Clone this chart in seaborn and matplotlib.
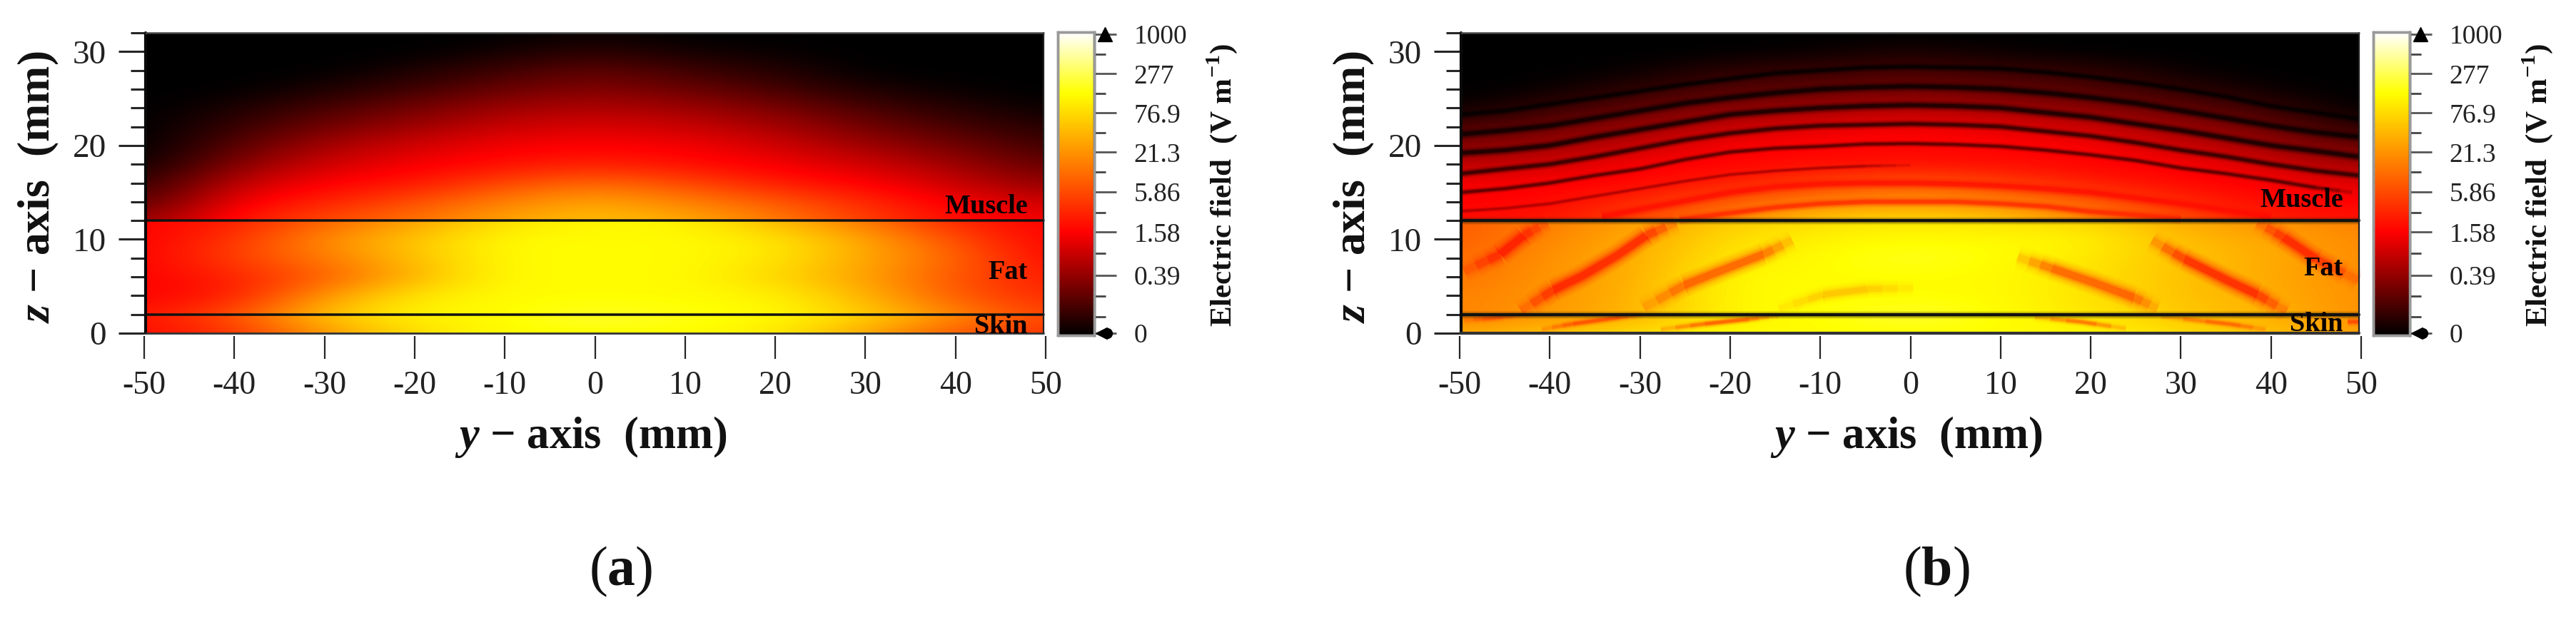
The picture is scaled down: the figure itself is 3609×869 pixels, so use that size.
import matplotlib
matplotlib.use('Agg')
import matplotlib.pyplot as plt
from matplotlib.colors import LinearSegmentedColormap
import seaborn as sns

# all field values are log10(E); rows run top to bottom
y_mm = [-50, -40, -30, -20, -10, 0, 10, 20, 30, 40, 50]
y_fine = [-49.8, -45, -40, -35, -30, -25, -20, -15, -10, -5, 0, 5, 10, 15, 20, 25, 30, 35, 40, 45, 49.7]

# panel a
a_muscle = [  # z = 32, 30, ... 12
    [-1.26, -1.26, -1.26, -1.26, -1.26, -1.20, -1.26, -1.26, -1.26, -1.26, -1.26],
    [-1.26, -1.26, -1.26, -1.25, -1.15, -1.00, -1.15, -1.20, -1.26, -1.26, -1.26],
    [-1.26, -1.26, -1.25, -1.10, -0.90, -0.70, -0.90, -1.05, -1.25, -1.26, -1.26],
    [-1.26, -1.25, -1.10, -0.90, -0.65, -0.50, -0.65, -0.85, -1.10, -1.20, -1.26],
    [-1.26, -1.10, -0.85, -0.60, -0.35, -0.25, -0.35, -0.55, -0.85, -1.05, -1.20],
    [-1.26, -0.95, -0.60, -0.35, -0.10, 0.00, -0.10, -0.30, -0.60, -0.85, -1.05],
    [-1.26, -0.75, -0.30, -0.05, 0.15, 0.20, 0.15, -0.05, -0.35, -0.60, -0.90],
    [-1.20, -0.50, -0.05, 0.15, 0.30, 0.45, 0.30, 0.15, -0.05, -0.35, -0.70],
    [-1.00, -0.15, 0.20, 0.35, 0.75, 1.00, 0.75, 0.40, 0.20, -0.10, -0.45],
    [-0.80, 0.15, 0.45, 0.80, 1.20, 1.50, 1.20, 0.90, 0.50, 0.15, -0.10],
    [-0.40, 0.35, 0.80, 1.10, 1.50, 1.70, 1.55, 1.20, 0.70, 0.30, 0.15],
]
a_fat = [  # z = 12, 10, ... 2
    [0.20, 0.40, 0.95, 1.40, 1.95, 2.10, 2.10, 1.60, 1.10, 0.45, 0.20],
    [0.20, 0.60, 1.30, 1.75, 2.15, 2.15, 2.15, 2.00, 1.50, 0.80, 0.20],
    [0.20, 0.70, 1.15, 1.70, 2.15, 2.15, 2.15, 2.00, 1.50, 1.00, 0.25],
    [0.20, 0.45, 0.90, 1.60, 2.15, 2.15, 2.15, 1.85, 1.45, 0.85, 0.40],
    [0.20, 0.40, 1.40, 2.00, 2.15, 2.15, 2.15, 2.10, 1.60, 0.90, 0.50],
    [0.35, 0.80, 1.70, 2.10, 2.15, 2.30, 2.20, 2.15, 1.80, 1.25, 0.70],
]
a_skin = [  # z = 2, 1, 0
    [0.35, 0.80, 1.70, 2.10, 2.15, 2.30, 2.20, 2.15, 1.80, 1.25, 0.70],
    [0.30, 0.70, 1.60, 2.00, 2.15, 2.30, 2.20, 2.10, 1.70, 1.10, 0.65],
    [0.30, 0.60, 1.40, 1.95, 2.15, 2.15, 2.15, 2.05, 1.50, 0.90, 0.60],
]

# panel b
b_muscle = [
    [-1.26, -1.26, -1.26, -1.26, -1.26, -1.26, -1.26, -1.26, -1.26, -1.26, -1.26],
    [-1.26, -1.26, -1.26, -1.25, -1.20, -1.10, -1.20, -1.25, -1.26, -1.26, -1.26],
    [-1.26, -1.26, -1.20, -1.00, -0.95, -0.85, -0.95, -1.00, -1.20, -1.26, -1.26],
    [-1.26, -1.20, -1.00, -0.80, -0.70, -0.60, -0.70, -0.80, -1.00, -1.20, -1.26],
    [-1.20, -0.95, -0.70, -0.50, -0.35, -0.25, -0.35, -0.50, -0.70, -0.95, -1.26],
    [-0.85, -0.65, -0.40, -0.10, 0.05, 0.15, 0.05, -0.10, -0.40, -0.65, -1.05],
    [-0.50, -0.35, -0.10, 0.20, 0.22, 0.25, 0.22, 0.20, -0.10, -0.35, -0.70],
    [-0.20, -0.05, 0.20, 0.22, 0.28, 0.30, 0.28, 0.22, 0.20, -0.05, -0.35],
    [0.15, 0.20, 0.25, 0.40, 0.70, 0.90, 0.70, 0.40, 0.25, 0.20, 0.00],
    [0.20, 0.25, 0.50, 0.90, 1.20, 1.35, 1.20, 0.90, 0.50, 0.25, 0.22],
    [0.30, 0.35, 0.80, 1.30, 1.85, 1.95, 1.85, 1.30, 0.80, 0.40, 0.35],
]
b_fat = [
    [0.90, 1.20, 1.40, 1.80, 1.90, 2.00, 1.90, 1.85, 1.50, 1.30, 1.20],
    [0.90, 1.25, 1.55, 1.90, 2.10, 2.15, 2.15, 2.10, 1.65, 1.50, 1.25],
    [1.00, 1.35, 1.55, 2.00, 2.15, 2.30, 2.15, 2.00, 1.70, 1.55, 1.25],
    [1.10, 1.35, 1.55, 2.15, 2.15, 2.15, 2.15, 1.95, 1.70, 1.50, 1.30],
    [1.20, 1.35, 1.60, 2.15, 2.15, 2.15, 2.15, 1.95, 1.70, 1.55, 1.30],
    [1.20, 1.40, 1.60, 2.15, 2.15, 2.35, 2.15, 2.00, 1.75, 1.60, 1.30],
]
b_skin = [
    [1.20, 1.40, 1.60, 2.15, 2.15, 2.35, 2.15, 2.00, 1.75, 1.60, 1.30],
    [1.30, 1.50, 1.70, 2.10, 2.15, 2.30, 2.15, 2.05, 1.80, 1.60, 1.35],
    [1.50, 1.70, 1.90, 2.15, 2.15, 2.15, 2.15, 2.10, 1.90, 1.70, 1.40],
]

# dark minima in the muscle of panel b: z along y_fine
null_1 = [23.3, 23.7, 24.4, 25.1, 25.8, 26.5, 27.1, 27.7, 28.0, 28.3, 28.4, 28.3, 28.2, 27.8, 27.3, 26.7, 26.0, 25.2, 24.2, 23.5, 22.8]
null_2 = [21.2, 21.6, 22.1, 22.9, 23.7, 24.5, 25.1, 25.6, 26.0, 26.2, 26.3, 26.2, 26.0, 25.6, 25.1, 24.5, 23.7, 22.9, 22.1, 21.4, 20.9]
null_3 = [19.2, 19.5, 20.0, 20.9, 21.7, 22.5, 23.3, 23.7, 24.0, 24.2, 24.3, 24.2, 24.0, 23.5, 23.0, 22.3, 21.6, 20.8, 20.0, 19.4, 18.8]
null_4 = [17.0, 17.5, 18.0, 18.8, 19.7, 20.6, 21.3, 21.8, 22.1, 22.2, 22.3, 22.2, 22.0, 21.5, 21.0, 20.3, 19.5, 18.8, 18.0, 17.3, 16.8]
null_5_y = [-49.8, -45, -40, -35, -30, -25, -20, -15, -10, -5, 0, 5, 10, 15, 20, 25, 30, 35, 40, 45, 49]
null_5 = [15.0, 15.4, 16.0, 16.8, 17.5, 18.5, 19.3, 19.7, 19.9, 20.15, 20.2, 20.1, 19.9, 19.5, 19.0, 18.4, 17.6, 17.0, 16.3, 15.5, 15.0]
null_6_y = [-49.8, -45, -40, -35, -30, -25, -20, -15, -10, -5, 0]
null_6 = [13.0, 13.3, 13.8, 14.6, 15.4, 16.2, 16.9, 17.3, 17.6, 17.8, 17.9]
null_7_y = [-34.2, -30, -25, -20, -15, -10, -5, 0, 5, 10, 15, 20, 25, 30, 35, 40]
null_7 = [12.4, 13.2, 14.1, 15.0, 15.6, 15.9, 16.0, 16.0, 15.9, 15.7, 15.4, 15.0, 14.4, 13.8, 13.1, 12.4]
null_8_y = [-25.6, -20, -15, -10, -5, 0, 5, 10, 15, 20, 25, 30]
null_8 = [12.1, 12.8, 13.4, 13.8, 14.0, 14.0, 14.0, 13.8, 13.5, 12.95, 12.6, 12.2]

# red streaks in fat and skin of panel b: (y, z)
streaks_fat = [
    ([-49.5, -45.5, -42.9, -40.3], [6.6, 8.4, 10.4, 11.8]),
    ([-43.2, -39.6, -36.4, -32.5, -29.3, -26.0], [2.4, 4.6, 6.1, 8.3, 10.4, 11.8]),
    ([38.5, 41.4, 45.0, 49.7], [11.8, 10.2, 7.9, 5.6]),
    ([26.8, 30.4, 35.2, 38.5, 41.7], [9.9, 7.9, 5.6, 4.1, 2.3]),
]
streaks_fat_light = [
    ([-29.6, -25.1, -21.2, -16.3, -13.1], [2.7, 5.1, 6.6, 8.4, 9.9]),
    ([11.9, 15.7, 20.6, 24.8, 27.4], [8.1, 6.9, 5.3, 3.8, 2.6]),
]
streaks_fat_faint = [
    ([-14.6, -9.7, -4.8, 0.3], [2.6, 4.1, 4.7, 4.8]),
]
streaks_skin = [
    ([-49.5, -46.4, -42.8], [1.4, 1.6, 2.0]),
    ([-40.9, -37.4, -32.2, -29.6], [0.4, 1.0, 1.7, 2.0]),
    ([-27.7, -22.8, -17.9, -14.6], [0.4, 1.0, 1.5, 1.9]),
    ([13.8, 19.0, 23.9], [1.7, 1.2, 0.5]),
    ([27.8, 35.2, 39.4], [1.8, 1.0, 0.4]),
    ([48.5, 49.7], [1.2, 1.2]),
]

layers = ['Muscle', 'Fat', 'Skin']
x_labels = ['-50', '-40', '-30', '-20', '-10', '0', '10', '20', '30', '40', '50']
z_major = [0, 10, 20, 30]
z_minor = [2, 4, 6, 8, 12, 14, 16, 18, 22, 24, 26, 28, 32]
cbar_ticks = [3.0, 2.44, 1.886, 1.33, 0.768, 0.2, -0.41, -1.23]
cbar_minor = [2.72, 2.16, 1.61, 1.05, 0.48, -0.1, -0.7, -1.0]
cbar_labels = ['1000', '277', '76.9', '21.3', '5.86', '1.58', '0.39', '0']
vmin, vmax = -1.26, 3.03

sns.set_style('white')
plt.rcParams['font.family'] = ['Liberation Serif']
plt.rcParams['mathtext.fontset'] = 'custom'
plt.rcParams['mathtext.rm'] = 'Liberation Serif'
plt.rcParams['mathtext.bf'] = 'Liberation Serif:bold'
plt.rcParams['mathtext.bfit'] = 'Liberation Serif:italic:bold'
plt.rcParams['axes.unicode_minus'] = False

cmap = LinearSegmentedColormap.from_list(
    'field', [(0, '#000000'), (0.34, '#ff0000'), (0.8, '#ffff00'), (1, '#ffffff')])

W, H = 3609, 869
fig = plt.figure(figsize=(W / 100, H / 100), dpi=100)


def box(x0, x1, y0, y1):
    return [x0 / W, 1 - y1 / H, (x1 - x0) / W, (y1 - y0) / H]


def soft_line(ax, xs, zs, color, width, strength=1.0):
    # a blurred curve: wide and faint underneath, narrow and solid on top
    for grow, alpha in [(2.6, 0.08), (2.1, 0.12), (1.6, 0.18), (1.2, 0.28), (0.8, 0.5)]:
        sns.lineplot(x=xs, y=zs, ax=ax, color=color, lw=width * grow * 0.72, alpha=alpha * strength,
                     errorbar=None, legend=False, sort=False, solid_capstyle='butt', solid_joinstyle='round')


def fading_line(ax, xs, zs, color, width, strength=1.0, fade_in=True, fade_out=True):
    # same curve, the end pieces get weaker so it dies out into the background
    n = len(xs)
    a, b = (1 if fade_in else 0), (n - 2 if fade_out else n - 1)
    if b > a:
        soft_line(ax, xs[a:b + 1], zs[a:b + 1], color, width, strength)
    ends = []
    if fade_in and n > 1:
        ends.append((xs[1], zs[1], xs[0], zs[0]))
    if fade_out and n > 1:
        ends.append((xs[-2], zs[-2], xs[-1], zs[-1]))
    for x0, z0, x1, z1 in ends:
        for i, st in enumerate([0.75, 0.5, 0.25]):
            sx0, sx1 = x0 + (x1 - x0) * i / 3, x0 + (x1 - x0) * (i + 1) / 3
            sz0, sz1 = z0 + (z1 - z0) * i / 3, z0 + (z1 - z0) * (i + 1) / 3
            soft_line(ax, [sx0, sx1], [sz0, sz1], color, width, strength * st)


def panel(dx, muscle, fat, skin):
    left, right, top, bot = 204 + dx, 1462 + dx, 46, 467
    z_px = (bot - top) / 32.0
    spans = [(top, bot - 12 * z_px, muscle), (bot - 12 * z_px, bot - 2 * z_px, fat), (bot - 2 * z_px, bot, skin)]
    for y0, y1, table in spans:
        lay = fig.add_axes(box(left, right, y0, y1))
        # each tissue layer has its own smooth field, the jump at the interfaces is real
        lay.imshow(table, cmap=cmap, vmin=vmin, vmax=vmax, aspect='auto',
                   interpolation='bicubic', interpolation_stage='data')
        lay.set_xlim(0, len(table[0]) - 1)
        lay.set_ylim(len(table) - 1, 0)
        lay.axis('off')

    # colour bar from a heatmap of the same scale
    cax = fig.add_axes(box(1482 + dx, 1533 + dx, 45, 470))
    hidden = fig.add_axes([0, 0, 0.001, 0.001])
    sns.heatmap([[vmin, vmax]], ax=hidden, cmap=cmap, vmin=vmin, vmax=vmax, cbar=True, cbar_ax=cax,
                xticklabels=False, yticklabels=False)
    hidden.set_visible(False)
    cax.set_yticks(cbar_ticks)
    cax.set_yticklabels(cbar_labels)
    cax.set_yticks(cbar_minor, minor=True)
    cax.tick_params(which='major', length=22, width=2, color='#555555', labelsize=27, pad=18, labelcolor='#222222')
    cax.tick_params(which='minor', length=11.5, width=2, color='#444444')
    for name, sp in cax.spines.items():
        sp.set_visible(True)
        sp.set_color('#333333' if name == 'right' else '#999999')
        sp.set_linewidth(2.5)
    cax.plot([1.29], [0.993], marker='^', ms=14, color='black', transform=cax.transAxes, clip_on=False)
    cax.plot([1.2], [0.007], marker='<', ms=12, color='black', transform=cax.transAxes, clip_on=False)
    cax.plot([1.36], [0.007], marker='o', ms=10, color='black', transform=cax.transAxes, clip_on=False)
    fig.text((1712 + dx) / W, 1 - 260 / H, 'Electric field  (V m$^{\\mathbf{-1}}$)', rotation=90,
             fontsize=31, fontweight='bold', color='#111111', ha='center', va='center')

    # frame on top, carries the real y and z scales
    ax = fig.add_axes(box(202 + dx, 1465 + dx, top, bot))
    ax.patch.set_visible(False)
    return ax


def finish(ax, letter, xtick_cols, ztick_cols, dx, iface_width, halo, label_z):
    for z in [12, 2]:
        if halo:
            soft_line(ax, [-49.84, 49.76], [z, z], '#2a2000', iface_width * 1.1)
        sns.lineplot(x=[-49.84, 49.76], y=[z, z], ax=ax, color='#111111', lw=iface_width * 0.72,
                     errorbar=None, legend=False)
    # border
    ax.plot([-49.84, -49.84], [0, 32], color='#0a0a0a', lw=3, clip_on=False)
    ax.plot([49.76, 49.76], [0, 32], color='#222222', lw=1.6, clip_on=False)
    ax.plot([-49.84, 49.76], [32, 32], color='#444444', lw=1.8, clip_on=False)
    ax.plot([-49.84, 49.76], [0, 0], color='#333333', lw=3 if halo else 2, clip_on=False)

    ax.set_xlim(-50, 50)
    ax.set_ylim(0, 32.0)
    for sp in ax.spines.values():
        sp.set_visible(False)
    ax.spines['bottom'].set_position(('outward', 3))
    ax.set_xticks(y_mm)
    ax.set_xticklabels(x_labels)
    ax.set_yticks(z_major)
    ax.set_yticks(z_minor, minor=True)
    ax.tick_params(axis='x', bottom=True, length=23, width=1.6, labelsize=33, pad=12, labelcolor='#222222')
    ax.tick_params(axis='y', left=True, which='major', length=26, width=2.2, labelsize=34, pad=12, labelcolor='#222222')
    ax.tick_params(axis='y', left=True, which='minor', length=14, width=2.2)
    for tick, col in zip(ax.xaxis.get_major_ticks(), xtick_cols):
        tick.tick1line.set_color(col)
    for tick, z in zip(ax.yaxis.get_major_ticks(), z_major):
        tick.tick1line.set_color(ztick_cols.get(z, '#ffffff'))
    for tick, z in zip(ax.yaxis.get_minor_ticks(), z_minor):
        tick.tick1line.set_color(ztick_cols.get(z, '#ffffff'))

    ax.set_xlabel('$\\mathbfit{y}$ \u2212 axis  (mm)', fontsize=45, fontweight='bold', color='#111111')
    ax.xaxis.set_label_coords((828 + dx) / W, 1 - 612 / H, transform=fig.transFigure)
    ax.xaxis.label.set_va('center')
    ax.set_ylabel('$\\mathbfit{z}$ \u2212 axis  (mm)', fontsize=46, fontweight='bold', color='#111111')
    ax.yaxis.set_label_coords((54 + dx) / W, 1 - 262 / H, transform=fig.transFigure)
    ax.yaxis.label.set_va('center')

    fig.text((870 + dx) / W, 1 - 801 / H, '($\\mathbf{' + letter + '}$)', fontsize=56, color='#111111',
             ha='center', va='center')
    for name, z_c in zip(layers, label_z):
        ax.text(48.0, z_c, name, fontsize=27.5, fontweight='bold', color='#0a0000', ha='right', va='center')


ax_a = panel(0, a_muscle, a_fat, a_skin)
finish(ax_a, 'a',
       ['#777777', '#ffffff', '#555555', '#ffffff', '#dddddd', '#444444', '#888888', '#ffffff', '#777777', '#666666', '#eeeeee'],
       {32: '#999999', 30: '#555555', 28: '#444444', 26: '#dddddd', 24: '#bbbbbb', 22: '#888888',
        20: '#777777', 18: '#bbbbbb', 16: '#dddddd', 14: '#555555', 12: '#444444', 6: '#444444', 0: '#333333'},
       0, 3.5, False, [13.5, 6.5, 0.7])

ax_b = panel(1843, b_muscle, b_fat, b_skin)
# minima first, the interface lines go on top of them
for zs, col, w in [(null_1, '#000000', 5), (null_2, '#000000', 6), (null_3, '#000000', 6), (null_4, '#150000', 5)]:
    soft_line(ax_b, y_fine, zs, col, w)
fading_line(ax_b, null_5_y, null_5, '#3a0000', 4, fade_in=False)
fading_line(ax_b, null_6_y, null_6, '#a00000', 3, fade_in=False)
fading_line(ax_b, null_7_y, null_7, '#ff0a00', 7, fade_in=False, fade_out=False)
fading_line(ax_b, null_8_y, null_8, '#ff2000', 6, fade_in=False, fade_out=False)
for xs, zs in streaks_fat:
    fading_line(ax_b, xs, zs, '#ff0800', 13, 0.95)
for xs, zs in streaks_fat_light:
    fading_line(ax_b, xs, zs, '#ff3000', 13, 0.8)
for xs, zs in streaks_fat_faint:
    fading_line(ax_b, xs, zs, '#ffa000', 10, 0.6)
for xs, zs in streaks_skin:
    fading_line(ax_b, xs, zs, '#ff3000', 5, 0.85)
finish(ax_b, 'b',
       ['#e8e8e8', '#aaaaaa', '#999999', '#ffffff', '#ffffff', '#ffffff', '#ffffff', '#cccccc', '#999999', '#888888', '#777777'],
       {32: '#aaaaaa', 30: '#333333', 24: '#444444', 22: '#999999', 20: '#bbbbbb', 18: '#777777',
        16: '#eeeeee', 14: '#666666', 12: '#333333', 8: '#333333', 6: '#333333', 2: '#dddddd', 0: '#333333'},
       1843, 4, True, [14.2, 6.9, 0.95])

fig.savefig('out.png', dpi=100)
